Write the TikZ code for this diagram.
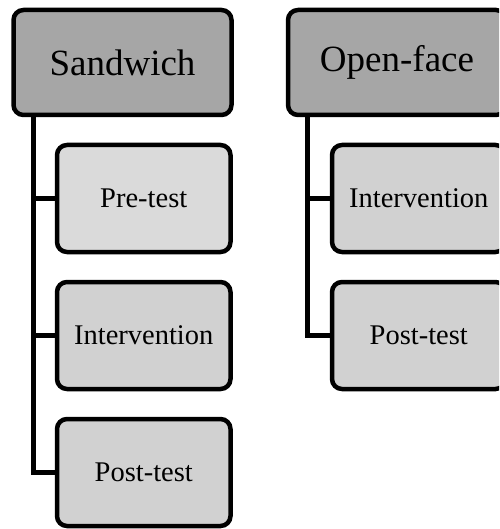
\documentclass[tikz,border=0pt]{standalone}
\usepackage{fontspec}
\setmainfont{Liberation Serif}
\begin{document}
\begin{tikzpicture}[x=1pt,y=-1pt,
  headbox/.style={draw=black, line width=4.5pt, rounded corners=10pt, fill=headgray,
    minimum width=218pt, minimum height=105pt, inner sep=0pt,
    font=\fontsize{37}{44}\selectfont},
  childbox/.style={draw=black, line width=4.5pt, rounded corners=10pt, fill=childgray,
    minimum width=173.5pt, minimum height=107pt, inner sep=0pt,
    font=\fontsize{28.5}{34}\selectfont},
  link/.style={draw=black, line width=4.8pt, line join=miter}]
\definecolor{headgray}{HTML}{A6A6A6}
\definecolor{childgray}{HTML}{D1D1D1}
\definecolor{lightchild}{HTML}{DADADA}
\useasboundingbox (0,0) rectangle (499,529);
\clip (0,0) rectangle (499,529);
% left column
\node[headbox] (sand) at (122.5,62.5) {Sandwich};
\node[childbox, fill=lightchild] (pre) at (143.75,198.5) {Pre-test};
\node[childbox] (intL) at (143.75,335.5) {Intervention};
\node[childbox] (postL) at (143.75,472.5) {Post-test};
\coordinate (trunkL) at ([xshift=22pt]sand.south west);
\draw[link] (trunkL) |- (pre.west);
\draw[link] (trunkL) |- (intL.west);
\draw[link] (trunkL) |- (postL.west);
% right column
\node[headbox] (open) at (397,62.5) {Open-face};
\node[childbox] (intR) at (418.75,198.5) {Intervention};
\node[childbox] (postR) at (418.75,335.5) {Post-test};
\coordinate (trunkR) at ([xshift=22pt]open.south west);
\draw[link] (trunkR) |- (intR.west);
\draw[link] (trunkR) |- (postR.west);
\end{tikzpicture}
\end{document}
